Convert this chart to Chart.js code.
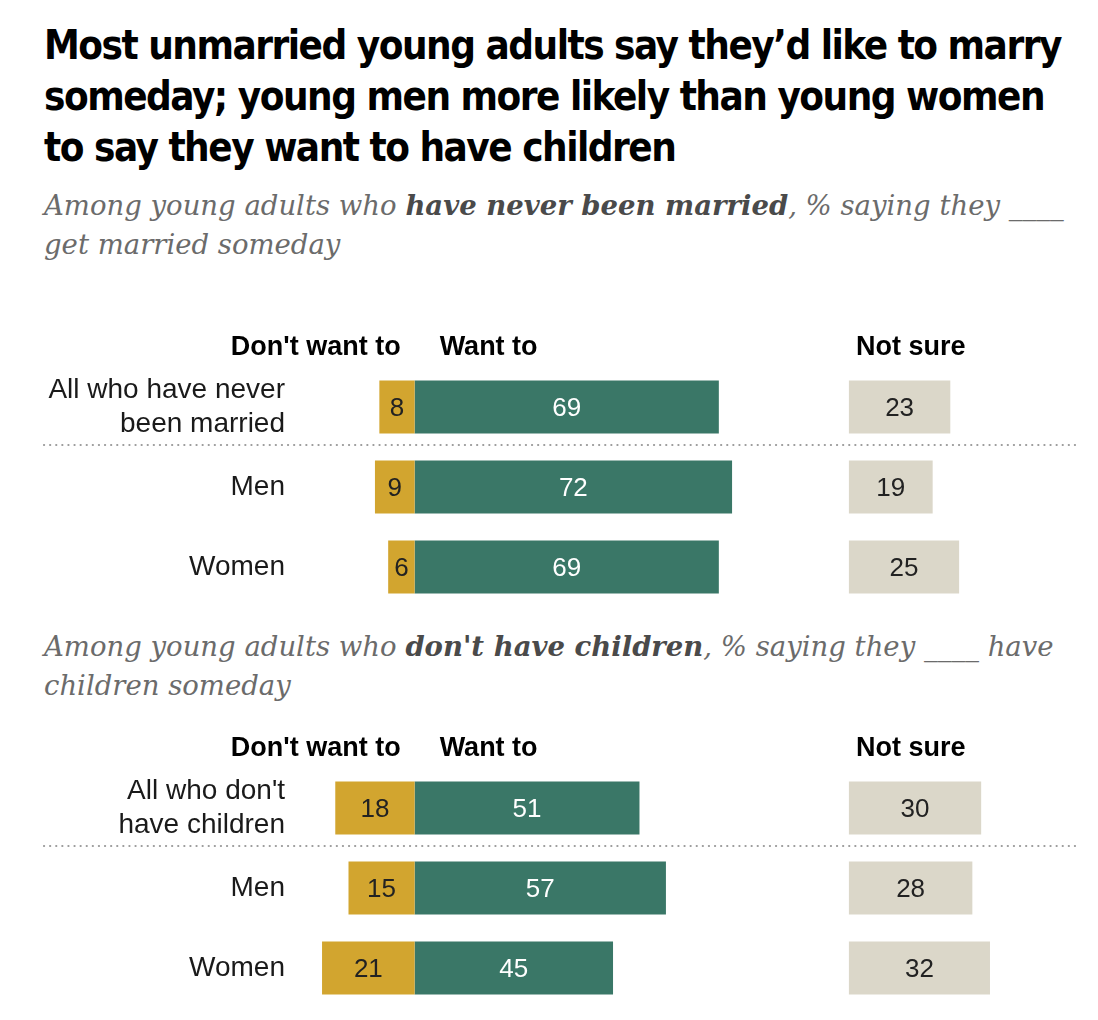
<!DOCTYPE html>
<html>
<head>
<meta charset="utf-8">
<script src="https://cdn.jsdelivr.net/npm/chart.js@4.4.0/dist/chart.umd.min.js"></script>
<style>
  body { margin: 0; background: #fff; }
  #page { position: relative; width: 1098px; height: 1020px; overflow: hidden; }
  .title {
    position: absolute; left: 44px; top: 20px; white-space: nowrap;
    font-family: 'DejaVu Sans Condensed', 'Liberation Sans', sans-serif;
    font-weight: bold; font-size: 40px; line-height: 51px; color: #000;
    letter-spacing: -1.5px;
  }
  .sub {
    position: absolute; left: 44px; white-space: nowrap;
    font-family: 'DejaVu Serif', Georgia, serif; font-style: italic;
    font-size: 27.5px; line-height: 39px; color: #6b6b6b;
  }
  .sub b { color: #4a4a4a; }
  canvas { position: absolute; left: 0; }
</style>
</head>
<body>
<div id="page">
  <div class="title">Most unmarried young adults say they’d like to marry<br>someday; young men more likely than young women<br>to say they want to have children</div>
  <div class="sub" style="top:186px">Among young adults who <b>have never been married</b>, % saying they ____<br>get married someday</div>
  <canvas id="marry-chart" width="1098" height="280" style="top:330px"></canvas>
  <div class="sub" style="top:627px">Among young adults who <b>don't have children</b>, % saying they ____ have<br>children someday</div>
  <canvas id="kids-chart" width="1098" height="280" style="top:731px"></canvas>
</div>
<script>
const columnHeaders = ["Don't want to", 'Want to', 'Not sure'];

const marryLabels = [['All who have never', 'been married'], 'Men', 'Women'];
const marryDont = [8, 9, 6];
const marryWant = [69, 72, 69];
const marryNotSure = [23, 19, 25];

const kidsLabels = [["All who don't", 'have children'], 'Men', 'Women'];
const kidsDont = [18, 15, 21];
const kidsWant = [51, 57, 45];
const kidsNotSure = [30, 28, 32];

const GOLD = '#D2A52F';
const TEAL = '#3A7767';
const BEIGE = '#DBD7C9';

// values written in the middle of each bar
const barText = {
    id: 'barText',
    afterDatasetsDraw(chart, args, opts) {
        const ctx = chart.ctx;
        chart.data.datasets.forEach((ds, i) => {
            const meta = chart.getDatasetMeta(i);
            meta.data.forEach((bar, j) => {
                ctx.save();
                ctx.font = opts.font;
                ctx.fillStyle = ds.textColor;
                ctx.textAlign = 'center';
                ctx.textBaseline = 'middle';
                ctx.fillText(Math.abs(ds.data[j]), (bar.x + bar.base) / 2, bar.y + 2);
                ctx.restore();
            });
        });
    }
};

// column headers + dotted line under the "All" row
const decor = {
    id: 'decor',
    afterDraw(chart, args, opts) {
        const ctx = chart.ctx;
        const zero = chart.scales.x.getPixelForValue(0);
        const zero2 = chart.scales.x2.getPixelForValue(0);
        const hy = chart.chartArea.top - 19;
        ctx.save();
        ctx.font = opts.headFont;
        ctx.fillStyle = '#000';
        ctx.textBaseline = 'middle';
        ctx.textAlign = 'right';
        ctx.fillText(columnHeaders[0], zero - 14, hy);
        ctx.textAlign = 'left';
        ctx.fillText(columnHeaders[1], zero + 25, hy);
        ctx.fillText(columnHeaders[2], zero2 + 7, hy);

        const ly = Math.round(chart.scales.y.getPixelForValue(0.5)) - 2;
        ctx.strokeStyle = '#999';
        ctx.lineWidth = 2.2;
        ctx.lineCap = 'round';
        ctx.setLineDash([0.1, 6]);
        ctx.beginPath();
        ctx.moveTo(44, ly);
        ctx.lineTo(1080, ly);
        ctx.stroke();
        ctx.restore();
    }
};

function makePanel(id, labels, dont, want, notSure) {
    return new Chart(document.getElementById(id), {
        type: 'bar',
        data: {
            labels: labels,
            datasets: [
                { label: columnHeaders[0], data: dont.map(v => -v), backgroundColor: GOLD, textColor: '#222', xAxisID: 'x' },
                { label: columnHeaders[1], data: want, backgroundColor: TEAL, textColor: '#fff', xAxisID: 'x' },
                { label: columnHeaders[2], data: notSure, backgroundColor: BEIGE, textColor: '#222', xAxisID: 'x2' },
            ],
        },
        options: {
            indexAxis: 'y',
            responsive: false,
            animation: false,
            events: [],
            layout: { padding: { top: 37, bottom: 3, left: 0, right: 0 } },
            datasets: { bar: { barPercentage: 0.66, categoryPercentage: 1, borderWidth: 0 } },
            scales: {
                x: { display: false, stacked: true, min: -26, max: 155 },
                x2: { display: false, stacked: true, min: -124.5, max: 56.5 },
                y: {
                    stacked: true,
                    grid: { display: false, drawTicks: false },
                    border: { display: false },
                    ticks: {
                        color: '#1a1a1a', padding: 15,
                        font: { family: '"Liberation Sans", Arial, sans-serif', size: 28, lineHeight: 1.22 },
                    },
                    afterFit: (scale) => {
                        scale.width = 300;
                        scale.paddingTop = 0;
                        scale.paddingBottom = 0;
                    },
                },
            },
            plugins: {
                legend: { display: false },
                tooltip: { enabled: false },
                barText: { font: '26px "Liberation Sans", Arial, sans-serif' },
                decor: { headFont: 'bold 27px "Liberation Sans", Arial, sans-serif' },
            },
        },
        plugins: [barText, decor],
    });
}

makePanel('marry-chart', marryLabels, marryDont, marryWant, marryNotSure);
makePanel('kids-chart', kidsLabels, kidsDont, kidsWant, kidsNotSure);
</script>
</body>
</html>
